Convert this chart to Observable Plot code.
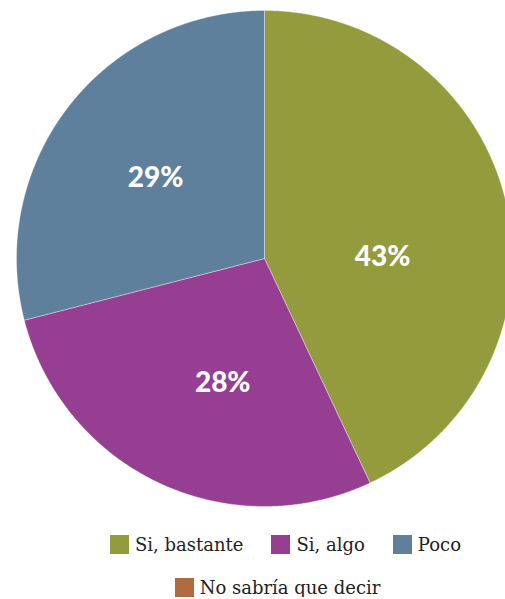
<!DOCTYPE html>
<html>
<head>
<meta charset="utf-8">
<script src="https://cdn.jsdelivr.net/npm/d3@7"></script>
<script src="https://cdn.jsdelivr.net/npm/@observablehq/plot@0.6"></script>
<style>
  html, body { margin: 0; padding: 0; background: #fff; }
  #chart svg { display: block; }
  .legend { font-family: "DejaVu Serif", serif; font-size: 18px; color: #222; padding-left: 66px; width: 439px; }
  .row { display: flex; justify-content: center; align-items: center; }
  .item { display: flex; align-items: center; margin: 0 14px; line-height: 19px; }
  .sw { width: 19px; height: 19px; margin-right: 6px; display: inline-block; }
</style>
</head>
<body>
<div id="chart"></div>
<div class="legend" id="legend"></div>
<script>
const categories = ["Si, bastante", "Si, algo", "Poco", "No sabría que decir"];
const values = [43, 28, 29, 0];
const colors = ["#939B3D", "#963E92", "#5F809C", "#B06B3F"];
const labels = ["43%", "28%", "29%", ""];

const W = 505, H = 518;
const R = 248, CX = 264, CY = 258;

const pie = d3.pie().sort(null).value(d => d.value);
const arcs = pie(categories.map((c, i) => ({cat: c, value: values[i], label: labels[i]})));

// polygon outlines of slices, in unit-circle coordinates
const poly = [];
arcs.forEach(a => {
  if (a.data.value <= 0) return;
  const n = Math.max(2, Math.ceil((a.endAngle - a.startAngle) / 0.005));
  poly.push({cat: a.data.cat, x: 0, y: 0});
  for (let k = 0; k <= n; k++) {
    const t = a.startAngle + (a.endAngle - a.startAngle) * k / n;
    poly.push({cat: a.data.cat, x: Math.sin(t), y: Math.cos(t)});
  }
  poly.push({cat: a.data.cat, x: 0, y: 0});
});

const lab = arcs.filter(a => a.data.value > 0).map(a => {
  const m = (a.startAngle + a.endAngle) / 2;
  return {cat: a.data.cat, label: a.data.label, x: 0.5 * Math.sin(m), y: 0.5 * Math.cos(m)};
});

// per-slice label nudges (px), to match the original's label placement
const nudge = {"Si, bastante": [-3, 26], "Si, algo": [11, 12], "Poco": [-11, -4]};

const chart = Plot.plot({
  width: W, height: H,
  margin: 0,
  x: {domain: [-CX / R, (W - CX) / R], axis: null},
  y: {domain: [-(H - CY) / R, CY / R], axis: null},
  color: {domain: categories, range: colors},
  marks: [
    Plot.line(poly, {x: "x", y: "y", z: "cat", fill: "cat", stroke: "white", strokeWidth: 0.6, strokeOpacity: 0.6, curve: "linear"}),
    ...lab.map(d => Plot.text([d], {x: "x", y: "y", text: "label", fill: "white", fontSize: 28, fontWeight: 900, fontFamily: "Lato", dx: nudge[d.cat][0], dy: nudge[d.cat][1], style: "letter-spacing:1px"}))
  ]
});
document.getElementById("chart").appendChild(chart);

const leg = document.getElementById("legend");
const rows = [[0, 1, 2], [3]];
rows.forEach((r, ri) => {
  const row = document.createElement("div");
  row.className = "row";
  row.style.marginTop = ri === 0 ? "17px" : "24px";
  if (ri === 1) row.style.paddingRight = "16px";
  r.forEach(i => {
    const it = document.createElement("div");
    it.className = "item";
    const sw = document.createElement("span");
    sw.className = "sw"; sw.style.background = colors[i];
    const tx = document.createElement("span");
    tx.textContent = categories[i];
    it.appendChild(sw); it.appendChild(tx);
    row.appendChild(it);
  });
  leg.appendChild(row);
});
</script>
</body>
</html>
